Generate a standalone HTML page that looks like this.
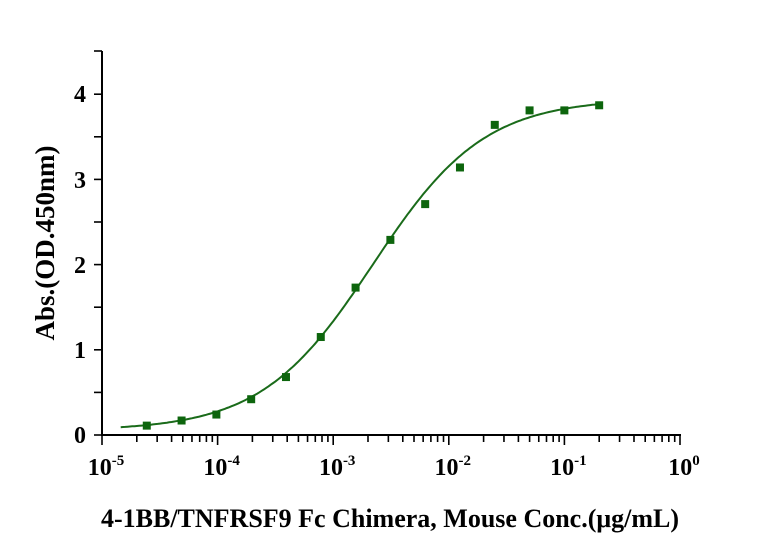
<!DOCTYPE html>
<html><head><style>body{margin:0;background:#fff}svg{display:block}</style></head><body>
<svg id="s" width="759" height="558" xmlns="http://www.w3.org/2000/svg" font-family="Liberation Serif, serif" font-weight="bold">
<g stroke="#000" stroke-width="2" fill="none">
<line x1="102" y1="51" x2="102" y2="436"/>
<line x1="101" y1="435" x2="681" y2="435"/>
</g>
<g id="ticks" stroke="#000" stroke-width="1.6"></g>
<g font-size="24" text-anchor="end">
<text x="86" y="443">0</text><text x="86" y="358">1</text><text x="86" y="273">2</text><text x="86" y="188">3</text><text x="86" y="102">4</text>
</g>
<g id="xl" font-size="24" text-anchor="middle"></g>
<path id="curve" fill="none" stroke="#1a6b1a" stroke-width="2"/>
<g id="pts" fill="#0d650d"></g>
<text x="390" y="527" font-size="26" text-anchor="middle">4-1BB/TNFRSF9 Fc Chimera, Mouse Conc.(μg/mL)</text>
<text transform="translate(54,243) rotate(-90)" font-size="27" text-anchor="middle">Abs.(OD.450nm)</text>
</svg>
<script>
var x0=102,dec=115.6,y0=435,py=85.2,NS="http://www.w3.org/2000/svg";
function X(v){return x0+(Math.log10(v)+5)*dec}
function Y(v){return y0-v*py}
function el(t,a,p){var e=document.createElementNS(NS,t);for(var k in a)e.setAttribute(k,a[k]);p.appendChild(e);return e}
var tk=document.getElementById('ticks');
for(var i=0;i<=8;i++){var y=Y(i/2);el('line',{x1:94,y1:y,x2:102,y2:y},tk)}
el('line',{x1:94,y1:51,x2:102,y2:51},tk);
for(var d=-5;d<=0;d++){for(var m=1;m<=9;m++){if(d==0&&m>1)break;var x=X(m*Math.pow(10,d));el('line',{x1:x,y1:435,x2:x,y2:m==1?445:442},tk)}}
var xl=document.getElementById('xl');
for(var d=-5;d<=0;d++){var t=el('text',{x:X(Math.pow(10,d))+4,y:475},xl);t.innerHTML='10<tspan dy="-10" font-size="15">'+(d==0?'0':'-'+(-d))+'</tspan>'}
function f(x){return 0.05+3.9/(1+Math.pow(2.2e-3/x,0.9))}
var p='';for(var l=Math.log10(1.45e-5);l<=Math.log10(0.2);l+=0.02){var x=Math.pow(10,l);p+=(p?'L':'M')+X(x).toFixed(1)+','+Y(f(x)).toFixed(1)}
document.getElementById('curve').setAttribute('d',p);
var ys=[0.11,0.17,0.24,0.42,0.68,1.15,1.73,2.29,2.71,3.14,3.64,3.81,3.81,3.87],g=document.getElementById('pts');
for(var i=0;i<14;i++){var x=2.44e-5*Math.pow(2,i);el('rect',{x:X(x)-4,y:Y(ys[i])-4,width:8,height:8},g)}
</script>
</body></html>
